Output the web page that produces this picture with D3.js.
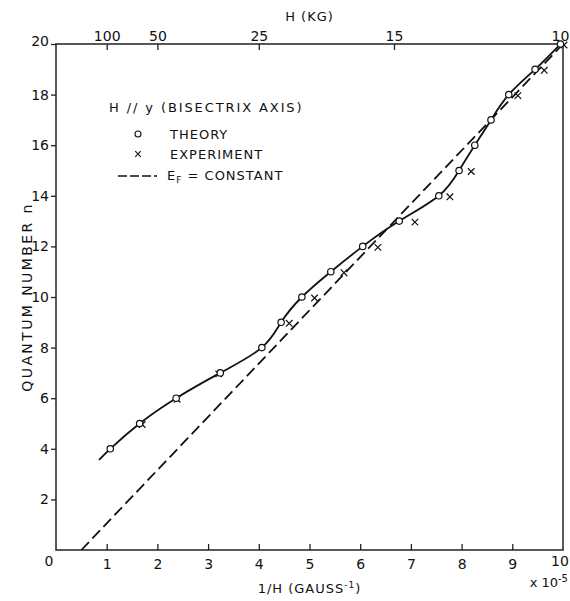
<!DOCTYPE html>
<html>
<head>
<meta charset="utf-8">
<script src="https://cdn.jsdelivr.net/npm/d3@7"></script>
<style>
  body { margin: 0; background: #fff; }
  text { font-family: "DejaVu Sans", "Liberation Sans", sans-serif; fill: #111; }
</style>
</head>
<body>
<div id="chart"></div>
<script>
// theory points (circles), quantum number n vs 1/H in units of 1e-5 gauss^-1
const theoryN = [4, 5, 6, 7, 8, 9, 10, 11, 12, 13, 14, 15, 16, 17, 18, 19, 20];
const theoryX = [1.07, 1.65, 2.37, 3.24, 4.06, 4.44, 4.85, 5.42, 6.05, 6.77, 7.55, 7.95, 8.26, 8.58, 8.93, 9.45, 9.95];

// experiment points (crosses)
const expN = [5, 6, 7, 9, 10, 11, 12, 13, 14, 15, 18, 19, 20];
const expX = [1.66, 2.35, 3.17, 4.56, 5.06, 5.64, 6.31, 7.04, 7.73, 8.15, 9.07, 9.59, 9.98];

// where the solid curve begins, below the first theory point
const curveStart = [0.85, 3.56];

// E_F = constant line, end points
const efX = [0.5, 10];
const efN = [0, 20];

const xTicks = [1, 2, 3, 4, 5, 6, 7, 8, 9];
const yTicks = [2, 4, 6, 8, 10, 12, 14, 16, 18, 20];
const topTicks = [100, 50, 25, 15, 10]; // H in kG

const width = 570, height = 601;
const margin = { top: 44, right: 7, bottom: 51, left: 56 };

const svg = d3.select("#chart").append("svg")
    .attr("width", width)
    .attr("height", height);

const x = d3.scaleLinear().domain([0, 10]).range([margin.left, width - margin.right]);
const y = d3.scaleLinear().domain([0, 20]).range([height - margin.bottom, margin.top]);

// frame
svg.append("rect")
    .attr("x", x(0)).attr("y", y(20))
    .attr("width", x(10) - x(0)).attr("height", y(0) - y(20))
    .attr("fill", "none").attr("stroke", "#222").attr("stroke-width", 1.5);

// bottom axis, ticks inward
const gx = svg.append("g")
    .attr("transform", `translate(0,${y(0)})`)
    .call(d3.axisBottom(x).tickValues(xTicks).tickSizeInner(-6).tickSizeOuter(0).tickPadding(9));
gx.select(".domain").remove();
gx.selectAll("line").attr("stroke", "#222").attr("stroke-width", 1.3);
gx.selectAll("text").style("font-size", "14px").attr("fill", "#111");

// left axis, ticks outward
const gy = svg.append("g")
    .attr("transform", `translate(${x(0)},0)`)
    .call(d3.axisLeft(y).tickValues(yTicks).tickSizeInner(5).tickSizeOuter(0).tickPadding(2));
gy.select(".domain").remove();
gy.selectAll("line").attr("stroke", "#222").attr("stroke-width", 1.3);
gy.selectAll("text").style("font-size", "14px").attr("fill", "#111");
gy.selectAll(".tick").filter(d => d === 20).select("text").attr("dy", "0.1em");

// top axis: H in kG at 1/H positions
const gt = svg.append("g")
    .attr("transform", `translate(0,${y(20)})`)
    .call(d3.axisTop(x).tickValues(topTicks.map(h => 100 / h))
        .tickFormat((d, i) => topTicks[i]).tickSizeInner(-6).tickSizeOuter(0).tickPadding(3));
gt.select(".domain").remove();
gt.selectAll("line").attr("stroke", "#222").attr("stroke-width", 1.3);
gt.selectAll("text").style("font-size", "14px").attr("fill", "#111");
gt.selectAll(".tick").filter(d => d === 10).select("line").remove();
gt.selectAll(".tick").filter(d => d === 10).select("text").attr("x", -3);

// shared origin label and right end label
svg.append("text")
    .attr("x", x(0) - 7).attr("y", y(0) + 16)
    .attr("text-anchor", "middle")
    .style("font-size", "14px")
    .text("0");
svg.append("text")
    .attr("x", x(10) - 3).attr("y", y(0) + 16)
    .attr("text-anchor", "middle")
    .style("font-size", "14px")
    .text("10");

// axis titles
svg.append("text")
    .attr("x", (x(0) + x(10)) / 2).attr("y", 593)
    .attr("text-anchor", "middle")
    .style("font-size", "13px").style("letter-spacing", "1px")
    .html('1/H (GAUSS<tspan dy="-5" font-size="9px">-1</tspan><tspan dy="5">)</tspan>');

svg.append("text")
    .attr("x", 568).attr("y", 587)
    .attr("text-anchor", "end")
    .style("font-size", "13px")
    .html('x 10<tspan dy="-5" font-size="10px">-5</tspan>');

svg.append("text")
    .attr("x", (x(0) + x(10)) / 2).attr("y", 21)
    .attr("text-anchor", "middle")
    .style("font-size", "13px").style("letter-spacing", "1px")
    .text("H (KG)");

svg.append("text")
    .attr("transform", `translate(32,${(y(0) + y(20)) / 2}) rotate(-90)`)
    .attr("text-anchor", "middle")
    .style("font-size", "14px").style("letter-spacing", "2.4px")
    .text("QUANTUM NUMBER n");

// E_F = constant dashed line
const line = d3.line().x(d => x(d[0])).y(d => y(d[1]));
svg.append("path")
    .datum(efX.map((v, i) => [v, efN[i]]))
    .attr("d", line)
    .attr("fill", "none").attr("stroke", "#111")
    .attr("stroke-width", 1.8).attr("stroke-dasharray", "11,5");

// solid theory curve
const curvePts = [curveStart].concat(theoryX.map((v, i) => [v, theoryN[i]]));
svg.append("path")
    .datum(curvePts)
    .attr("d", d3.line().x(d => x(d[0])).y(d => y(d[1])).curve(d3.curveNatural))
    .attr("fill", "none").attr("stroke", "#111").attr("stroke-width", 1.8);

// experiment crosses
const cross = d3.symbol().type(d3.symbolX).size(30);
svg.append("g").selectAll("path")
    .data(expX.map((v, i) => [v, expN[i]]))
    .join("path")
    .attr("transform", d => `translate(${x(d[0]) + 2},${y(d[1]) + 1})`)
    .attr("d", cross)
    .attr("fill", "none").attr("stroke", "#111").attr("stroke-width", 1.2);

// theory circles
svg.append("g").selectAll("circle")
    .data(theoryX.map((v, i) => [v, theoryN[i]]))
    .join("circle")
    .attr("cx", d => x(d[0])).attr("cy", d => y(d[1]))
    .attr("r", 3.2)
    .attr("fill", "#fff").attr("stroke", "#111").attr("stroke-width", 1.2);

// legend
const lg = svg.append("g").attr("transform", "translate(109,0)");
lg.append("text").attr("x", 0).attr("y", 112)
    .style("font-size", "13px").style("letter-spacing", "1.9px")
    .text("H // y  (BISECTRIX AXIS)");
lg.append("circle").attr("cx", 29).attr("cy", 134).attr("r", 3)
    .attr("fill", "#fff").attr("stroke", "#111").attr("stroke-width", 1.1);
lg.append("text").attr("x", 61).attr("y", 139)
    .style("font-size", "13px").style("letter-spacing", "1px").text("THEORY");
lg.append("path").attr("transform", "translate(29,154)")
    .attr("d", d3.symbol().type(d3.symbolX).size(22))
    .attr("fill", "none").attr("stroke", "#111").attr("stroke-width", 1.1);
lg.append("text").attr("x", 61).attr("y", 159)
    .style("font-size", "13px").style("letter-spacing", "1px").text("EXPERIMENT");
lg.append("line").attr("x1", 9).attr("x2", 48).attr("y1", 176).attr("y2", 176)
    .attr("stroke", "#111").attr("stroke-width", 1.6).attr("stroke-dasharray", "9,3");
lg.append("text").attr("x", 58).attr("y", 180)
    .style("font-size", "13px").style("letter-spacing", "1px")
    .html('E<tspan dy="3" font-size="9px">F</tspan><tspan dy="-3"> = CONSTANT</tspan>');
</script>
</body>
</html>
